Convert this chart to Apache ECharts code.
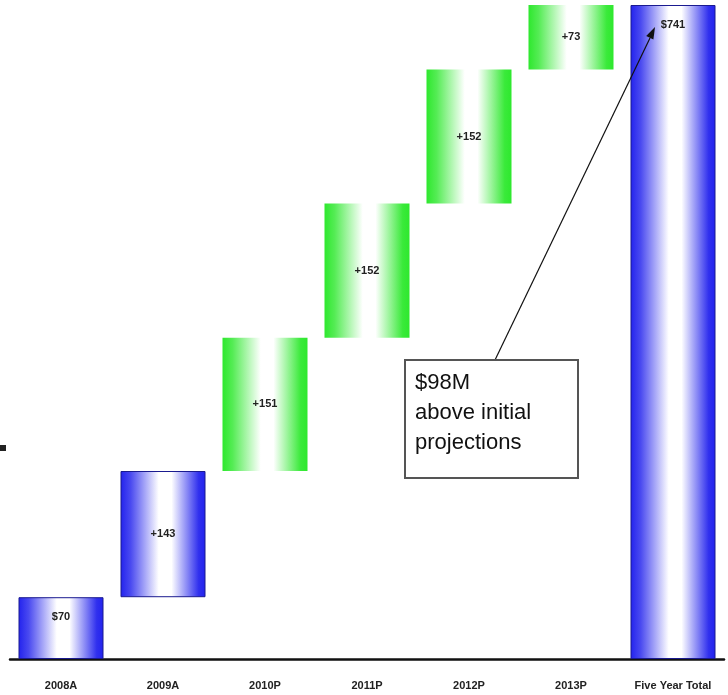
<!DOCTYPE html>
<html><head><meta charset="utf-8">
<script src="https://cdn.jsdelivr.net/npm/echarts@6/dist/echarts.min.js"></script>
<style>html,body{margin:0;padding:0;background:#fff}#c{width:728px;height:695px}</style>
</head><body><div id="c"></div>
<script>
const categories = ['2008A','2009A','2010P','2011P','2012P','2013P','Five Year Total'];
const values = [70,143,151,152,152,73,741];
const labels = ['$70','+143','+151','+152','+152','+73','$741'];
const isTotal = [true,false,false,false,false,false,true];
const isActual = [true,true,false,false,false,false,true];

const base = [];
let run = 0;
values.forEach((v,i)=>{ if(isTotal[i]){ base.push(0); run = (i===0? v : run); } else { base.push(run); run += v; } });

const blueGrad = new echarts.graphic.LinearGradient(0,0,1,0,[
  {offset:0,color:'#2222ee'},{offset:0.12,color:'#4a4af0'},{offset:0.45,color:'#ffffff'},{offset:0.6,color:'#ffffff'},{offset:0.92,color:'#3030ee'},{offset:1,color:'#2222ee'}]);
const greenGrad = new echarts.graphic.LinearGradient(0,0,1,0,[
  {offset:0,color:'#2ee82e'},{offset:0.12,color:'#55ec55'},{offset:0.45,color:'#ffffff'},{offset:0.6,color:'#ffffff'},{offset:0.92,color:'#3aea3a'},{offset:1,color:'#2ee82e'}]);

const font = '"Liberation Sans", Arial, sans-serif';

const chart = echarts.init(document.getElementById('c'));
chart.setOption({
  animation:false,
  grid:{left:10,right:4,top:5,bottom:36,containLabel:false},
  xAxis:{type:'category',data:categories,
    axisLine:{lineStyle:{color:'#111',width:2.5}},axisTick:{show:false},
    axisLabel:{interval:0,color:'#222',fontWeight:'bold',fontSize:11,fontFamily:font,margin:21}},
  yAxis:{type:'value',min:0,max:741,show:false,splitLine:{show:false}},
  series:[
    {type:'bar',stack:'w',data:base,itemStyle:{color:'transparent'},silent:true,barWidth:85},
    {type:'bar',stack:'w',barWidth:85,
      data:values.map((v,i)=>({value:v,
        itemStyle:{color:isActual[i]?blueGrad:greenGrad,
          borderColor:isActual[i]?'#1a1a90':'transparent',borderWidth:isActual[i]?1:0},
        label:{position:isTotal[i]?'insideTop':'inside',distance:isTotal[i]?14:5}})),
      label:{show:true,formatter:p=>labels[p.dataIndex],color:'#222',fontWeight:'bold',fontSize:11,fontFamily:font}}
  ],
  graphic:[
    {type:'line',z:100,zlevel:1,shape:{x1:495,y1:360,x2:650,y2:38},style:{stroke:'#111',lineWidth:1.2}},
    {type:'polygon',z:100,zlevel:1,shape:{points:[[655,27],[653.4,39.5],[646.2,36.1]]},style:{fill:'#111'}},
    {type:'rect',z:101,zlevel:1,shape:{x:405,y:360,width:173,height:118},style:{fill:'#fff',stroke:'#555',lineWidth:2}},
    {type:'text',z:102,zlevel:1,x:415,y:368,style:{text:'$98M\nabove initial\nprojections',font:'22px "Liberation Sans", Arial, sans-serif',fill:'#111',lineHeight:30}},
    {type:'rect',z:100,zlevel:1,shape:{x:0,y:445,width:6,height:6},style:{fill:'#222'}}
  ]
});
</script></body></html>
